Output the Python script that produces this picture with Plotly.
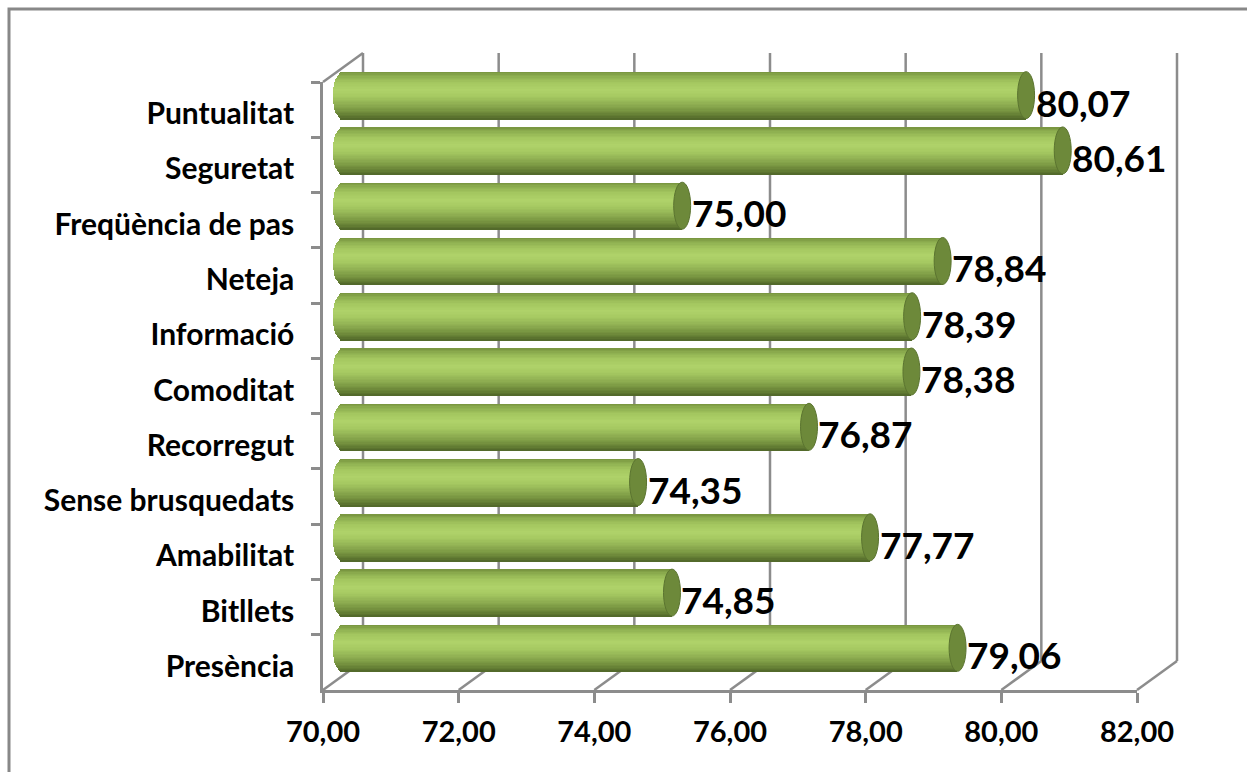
import numpy as np
import plotly.graph_objects as go

# ---- data (top to bottom as displayed) ----
categories = ["Puntualitat", "Seguretat", "Freqüència de pas", "Neteja", "Informació",
              "Comoditat", "Recorregut", "Sense brusquedats", "Amabilitat", "Bitllets",
              "Presència"]
values = [80.07, 80.61, 75.00, 78.84, 78.39, 78.38, 76.87, 74.35, 77.77, 74.85, 79.06]
x_ticks = [70, 72, 74, 76, 78, 80, 82]

W, H = 1247, 772
X_MIN, X_MAX = 70, 82

# pixel layout of the pseudo-3D box
FRONT_L, FRONT_R = 323, 1137      # front plane, x range 70..82
FRONT_T, FRONT_B = 82, 690
DX, DY = 40, -29                  # depth offset front -> back
PPU = (FRONT_R - FRONT_L) / (X_MAX - X_MIN)


def px(v):
    return v / W


def py(v):
    return 1 - v / H


# bars sit half way into the box
MID_L = FRONT_L + DX / 2
MID_T, MID_B = FRONT_T + DY / 2, FRONT_B + DY / 2
BAR_X0 = 69.5                      # a little room for the rounded left ends

n = len(categories)
idx = np.arange(n)[::-1]           # first category on top
vals = np.array(values)

fig = go.Figure()

# front plane: carries the category labels and the value axis
fig.add_trace(go.Scatter(x=values, y=categories, xaxis="x", yaxis="y", mode="markers",
                         marker=dict(opacity=0), hoverinfo="skip", showlegend=False))

# cylinders: horizontal stripes give the shading, bases round the left end
THICK = 0.85
N_STRIPES = 34
LEFT_R = 0.15
CAP_R = 0.125
profile_t = [0.0, 0.08, 0.22, 0.38, 0.52, 0.68, 0.82, 0.93, 1.0]
profile_c = [(0x76, 0x93, 0x3f), (0x8c, 0xad, 0x4f), (0xa4, 0xc7, 0x60), (0xb0, 0xd3, 0x6a),
             (0xa6, 0xc9, 0x62), (0x90, 0xb0, 0x53), (0x79, 0x96, 0x42), (0x62, 0x7c, 0x33),
             (0x50, 0x66, 0x29)]


def shade(t):
    r = np.interp(t, profile_t, [c[0] for c in profile_c])
    g = np.interp(t, profile_t, [c[1] for c in profile_c])
    b = np.interp(t, profile_t, [c[2] for c in profile_c])
    return f"rgb({int(r)},{int(g)},{int(b)})"


h = THICK / N_STRIPES
for k in range(N_STRIPES):
    t = (k + 0.5) / N_STRIPES
    s = 1 - 2 * t                  # -1..1 across the cylinder
    base = X_MIN - LEFT_R * np.sqrt(max(0.0, 1 - s * s))
    fig.add_trace(go.Bar(
        y=idx, x=vals - base, base=[base] * n, orientation="h",
        width=h * 1.04, offset=THICK / 2 - (k + 1) * h,
        marker=dict(color=shade(t), line=dict(width=0)),
        xaxis="x2", yaxis="y2", showlegend=False, hoverinfo="skip",
    ))

GRID = "#8c8c8c"
shapes = []
# rear wall gridlines
for t in x_ticks:
    bx = FRONT_L + DX + (t - X_MIN) * PPU
    shapes.append(dict(type="line", xref="paper", yref="paper",
                       x0=px(bx), y0=py(FRONT_T + DY), x1=px(bx), y1=py(FRONT_B + DY),
                       line=dict(color=GRID, width=2.5), layer="below"))
# left wall top edge
shapes.append(dict(type="line", xref="paper", yref="paper",
                   x0=px(FRONT_L), y0=py(FRONT_T), x1=px(FRONT_L + DX), y1=py(FRONT_T + DY),
                   line=dict(color=GRID, width=2.5), layer="below"))
# floor lines from each front tick back to the rear wall
for t in x_ticks:
    fx = FRONT_L + (t - X_MIN) * PPU
    shapes.append(dict(type="line", xref="paper", yref="paper",
                       x0=px(fx), y0=py(FRONT_B), x1=px(fx + DX), y1=py(FRONT_B + DY),
                       line=dict(color=GRID, width=2.5), layer="below"))
# outer frame
shapes.append(dict(type="rect", xref="paper", yref="paper",
                   x0=px(9), y0=py(9), x1=px(W + 20), y1=py(H + 20),
                   line=dict(color="#888888", width=3), fillcolor="rgba(0,0,0,0)", layer="below"))
# end caps of the cylinders
for v, i in zip(vals, idx):
    shapes.append(dict(type="circle", xref="x2", yref="y2",
                       x0=v - CAP_R, x1=v + CAP_R, y0=i - THICK / 2, y1=i + THICK / 2,
                       fillcolor="#6d893a", line=dict(color="#5b7430", width=1), layer="above"))

annotations = []
for v, i in zip(vals, idx):
    annotations.append(dict(xref="x2", yref="y2", x=v, y=i,
                            text=f"{v:.2f}".replace(".", ","), showarrow=False,
                            xanchor="left", yanchor="middle", xshift=CAP_R * PPU - 1, yshift=-7,
                            font=dict(family="Lato", size=37, color="#000000", weight="bold")))

label_font = dict(family="Lato", size=30, color="#000000", weight="bold")

fig.update_layout(
    width=W, height=H,
    margin=dict(l=0, r=0, t=0, b=0, autoexpand=False),
    paper_bgcolor="white", plot_bgcolor="rgba(0,0,0,0)",
    separators=",.",
    barmode="overlay", bargap=0,
    shapes=shapes, annotations=annotations,
    showlegend=False,
    # front plane
    xaxis=dict(domain=[px(FRONT_L), px(FRONT_R)], range=[X_MIN, X_MAX],
               tickmode="array", tickvals=x_ticks, tickformat=".2f",
               showgrid=False, zeroline=False, showline=True, linecolor=GRID, linewidth=2.5,
               ticks="outside", ticklen=10, tickwidth=2.5, tickcolor=GRID,
               tickfont=dict(family="Lato", size=29, color="#000000", weight="bold"),
               ticklabelstandoff=4, anchor="y", automargin=False, fixedrange=True),
    yaxis=dict(domain=[py(FRONT_B), py(FRONT_T)], type="category",
               categoryorder="array", categoryarray=categories[::-1], range=[-0.5, n - 0.5],
               tickson="boundaries", ticks="outside", ticklen=9, tickwidth=2.5, tickcolor=GRID,
               showline=True, linecolor=GRID, linewidth=2.5, showgrid=False, zeroline=False,
               tickfont=label_font, ticklabelstandoff=20, ticklabelshift=4, anchor="x",
               automargin=False, fixedrange=True),
    # bars, half way into the box
    xaxis2=dict(domain=[px(MID_L - (X_MIN - BAR_X0) * PPU), px(MID_L + (X_MAX - X_MIN) * PPU)],
                range=[BAR_X0, X_MAX], visible=False, anchor="y2", automargin=False,
                fixedrange=True),
    yaxis2=dict(domain=[py(MID_B), py(MID_T)], range=[-0.5, n - 0.5],
                visible=False, anchor="x2", automargin=False, fixedrange=True),
)

fig.write_html("out.html")
